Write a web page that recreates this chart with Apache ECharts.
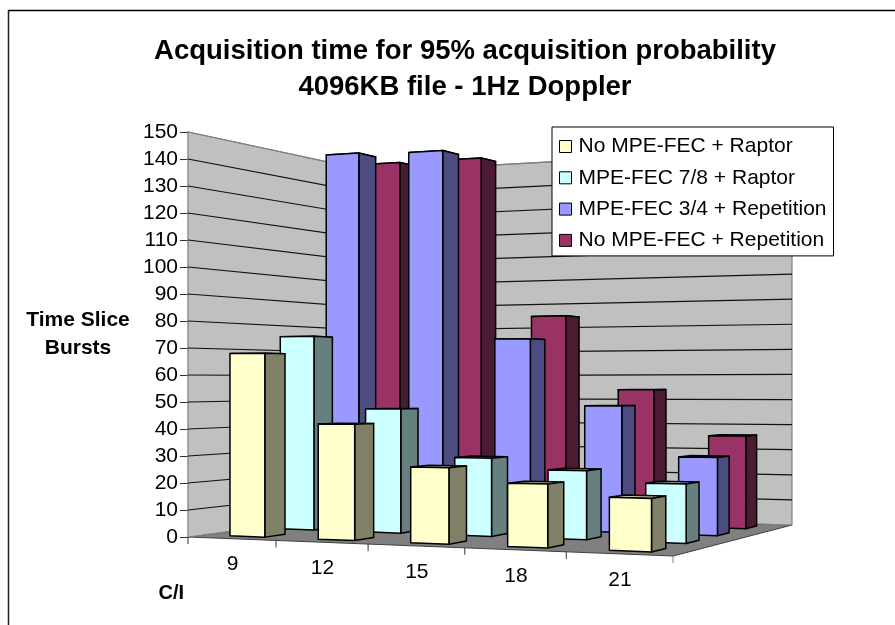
<!DOCTYPE html>
<html><head><meta charset="utf-8">
<style>html,body{margin:0;padding:0;background:#fff}#c{position:absolute;left:0;top:0;width:895px;height:625px}</style>
<script src="https://cdn.jsdelivr.net/npm/echarts@6/dist/echarts.min.js"></script>
</head><body><div id="c"></div>
<script>
var categories = ['9','12','15','18','21'];
var tickLabels = [0,10,20,30,40,50,60,70,80,90,100,110,120,130,140,150];
var noFecRaptor = [68,42,27,22,18];
var fec78Raptor = [75,47,29,25,21];
var fec34Repetition = [150,149,74,48,29];
var noFecRepetition = [150,150,84,54,36];

var chart = echarts.init(document.getElementById('c'));
var FONT = '"Liberation Sans", Arial, sans-serif';
var G = {left:188, top:132, width:485, height:405};
// floor-plane homography from (u,v) unit square
var P = [[188,537],[673,556],[792,525],[373,512]];
var sx=P[0][0]-P[1][0]+P[2][0]-P[3][0], sy=P[0][1]-P[1][1]+P[2][1]-P[3][1];
var dx1=P[1][0]-P[2][0], dx2=P[3][0]-P[2][0], dy1=P[1][1]-P[2][1], dy2=P[3][1]-P[2][1];
var det=dx1*dy2-dx2*dy1, g=(sx*dy2-dx2*sy)/det, h=(dx1*sy-sx*dy1)/det;
function proj(u,v,hpx){
  var w=1+g*u+h*v;
  var a=P[1][0]*(1+g)-P[0][0], b=P[3][0]*(1+h)-P[0][0];
  var c=P[1][1]*(1+g)-P[0][1], d=P[3][1]*(1+h)-P[0][1];
  return [(a*u+b*v+P[0][0])/w,(c*u+d*v+P[0][1]-hpx)/w];
}
var N=categories.length, BW=0.4/N, BD=0.1;
function barSeries(name,data,s,face,side,top){
  return {name:name,type:'custom',data:data.map(function(y,i){return [i,y];}),
    encode:{x:0,y:1},itemStyle:{color:face,borderColor:'#000',borderWidth:1},
    renderItem:function(p,api){
      var k=api.value(0), base=api.coord([k,0])[1], hp=base-api.coord([k,api.value(1)])[1];
      var u0=(k+0.3)/N,u1=u0+BW,v0=0.075+0.25*s,v1=v0+BD;
      var st=function(f){return {fill:f,stroke:'#000',lineWidth:1.5,lineJoin:'round'};};
      return {type:'group',children:[
        {type:'polygon',shape:{points:[proj(u0,v0,hp),proj(u1,v0,hp),proj(u1,v1,hp),proj(u0,v1,hp)]},style:st(top)},
        {type:'polygon',shape:{points:[proj(u1,v0,0),proj(u1,v1,0),proj(u1,v1,hp),proj(u1,v0,hp)]},style:st(side)},
        {type:'polygon',shape:{points:[proj(u0,v0,0),proj(u1,v0,0),proj(u1,v0,hp),proj(u0,v0,hp)]},style:st(face)}
      ]};
    }};
}
var wallSeries={type:'custom',silent:true,data:tickLabels.map(function(t){return [0,t];}),encode:{x:0,y:1},
  renderItem:function(p,api){
    var t=api.value(1), base=api.coord([0,0])[1], hp=base-api.coord([0,t])[1], full=G.height, ch=[];
    if(p.dataIndex===0){
      ch.push({type:'polygon',shape:{points:[proj(0,0,0),proj(1,0,0),proj(1,1,0),proj(0,1,0)]},style:{fill:'#808080',stroke:'#404040',lineWidth:1}});
      ch.push({type:'polygon',shape:{points:[proj(0,0,0),proj(0,1,0),proj(0,1,full),proj(0,0,full)]},style:{fill:'#c0c0c0',stroke:'#808080',lineWidth:1.2}});
      ch.push({type:'polygon',shape:{points:[proj(0,1,0),proj(1,1,0),proj(1,1,full),proj(0,1,full)]},style:{fill:'#c0c0c0',stroke:'#808080',lineWidth:1.2}});
      for(var i=0;i<=N;i++){
        var a=proj(i/N,0,0);
        ch.push({type:'line',shape:{x1:a[0],y1:a[1],x2:a[0],y2:a[1]+7},style:{stroke:i===N?'#808080':'#333',lineWidth:1}});
      }
      categories.forEach(function(c,i){
        var a=proj((i+0.5)/N,0,0);
        ch.push({type:'text',style:{text:c,x:a[0]+1,y:a[1]+26,align:'center',verticalAlign:'middle',font:'21px '+FONT,fill:'#000'}});
      });
    }
    if(t>0){
      var l=proj(0,0,hp),m=proj(0,1,hp),r=proj(1,1,hp);
      ch.push({type:'polyline',shape:{points:[l,m,r]},style:{fill:null,stroke:t===150?'#808080':'#111',lineWidth:1.2}});
    }
    return {type:'group',children:ch};
  }};
var option={
  animation:false,backgroundColor:'#fff',
  graphic:[
    {type:'line',shape:{x1:8,y1:10.5,x2:895,y2:10.5},style:{stroke:'#000',lineWidth:1.5},silent:true},
    {type:'line',shape:{x1:8.5,y1:10,x2:8.5,y2:625},style:{stroke:'#222',lineWidth:1.5},silent:true}
  ],
  title:{text:'Acquisition time for 95% acquisition probability\n4096KB file - 1Hz Doppler',left:460,top:28,textAlign:'center',
    textStyle:{fontFamily:FONT,fontSize:27.5,fontWeight:'bold',color:'#000',lineHeight:36}},
  legend:{orient:'vertical',left:552,top:127,padding:[9,7,5,7],itemGap:10.3,itemWidth:12,itemHeight:12,icon:'rect',
    backgroundColor:'#fff',borderColor:'#000',borderWidth:1,
    itemStyle:{borderColor:'#000',borderWidth:1},
    textStyle:{fontFamily:FONT,fontSize:21,color:'#000',padding:[0,0,0,2],lineHeight:21},
    data:['No MPE-FEC + Raptor','MPE-FEC 7/8 + Raptor','MPE-FEC 3/4 + Repetition','No MPE-FEC + Repetition']},
  grid:{left:G.left,top:G.top,width:G.width,height:G.height,outerBoundsMode:'none'},
  xAxis:{type:'category',data:categories,name:'C/I',nameLocation:'start',nameGap:0,
    nameTextStyle:{fontFamily:FONT,fontSize:20,fontWeight:'bold',color:'#000',padding:[46,4,0,0],align:'right',verticalAlign:'top'},
    axisLine:{show:false},axisTick:{show:false},axisLabel:{show:false},splitLine:{show:false}},
  yAxis:{type:'value',min:0,max:150,interval:10,name:'Time Slice\nBursts',nameLocation:'middle',nameRotate:0,nameGap:110,
    nameTextStyle:{fontFamily:FONT,fontSize:21,fontWeight:'bold',color:'#000',lineHeight:28,align:'center'},
    axisLine:{show:true,lineStyle:{color:'#606060',width:1.2}},axisTick:{show:true,length:8,lineStyle:{color:'#333'}},
    axisLabel:{fontFamily:FONT,fontSize:21,color:'#000',margin:10},splitLine:{show:false}},
  series:[wallSeries,
    barSeries('No MPE-FEC + Repetition',noFecRepetition,3,'#993366','#4d1a33','#732640'),
    barSeries('MPE-FEC 3/4 + Repetition',fec34Repetition,2,'#9999ff','#4c4c80','#7373bf'),
    barSeries('MPE-FEC 7/8 + Raptor',fec78Raptor,1,'#ccffff','#668080','#99bfbf'),
    barSeries('No MPE-FEC + Raptor',noFecRaptor,0,'#ffffcc','#808066','#bfbf99')]
};
chart.setOption(option);
</script></body></html>
